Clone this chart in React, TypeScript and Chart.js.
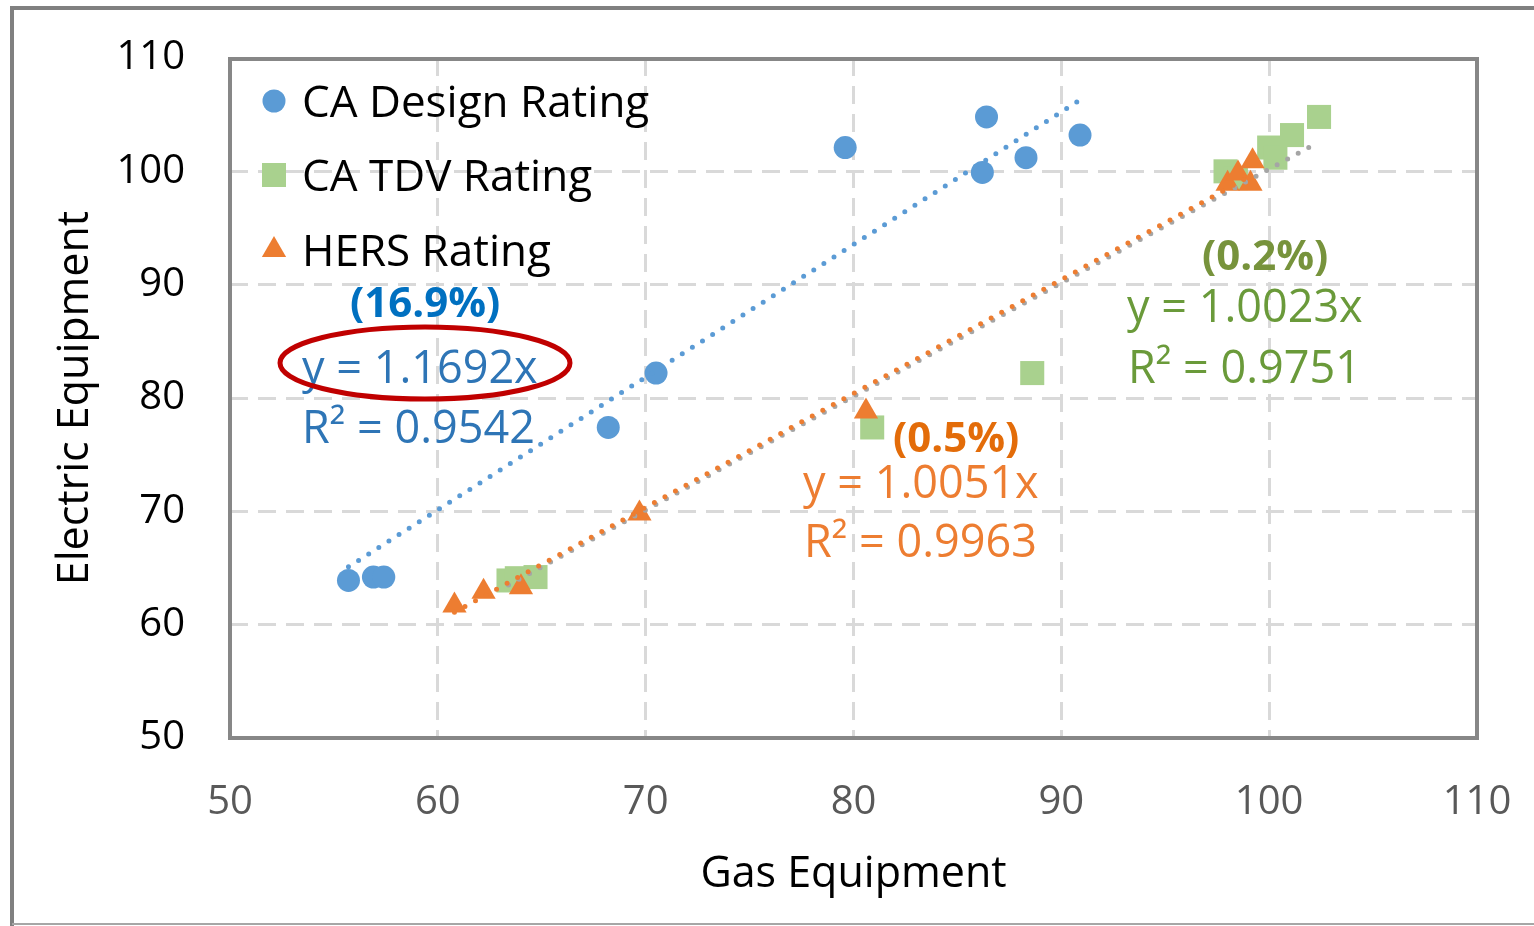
import React, { useEffect, useRef } from 'react';
import { Chart, registerables } from 'chart.js';

Chart.register(...registerables);

const FONT = '"Open Sans", "Noto Sans", sans-serif';

// ---- Data ----
const seriesNames = ['CA Design Rating', 'CA TDV Rating', 'HERS Rating'];

const designX = [55.7, 56.9, 57.4, 68.2, 70.5, 79.6, 86.4, 86.2, 88.3, 90.9];
const designY = [63.9, 64.2, 64.2, 77.4, 82.2, 102.1, 104.8, 99.9, 101.2, 103.2];

const tdvX = [63.4, 63.8, 64.7, 80.9, 88.6, 97.9, 98.4, 100.0, 100.3, 101.1, 102.4];
const tdvY = [63.9, 64.1, 64.2, 77.4, 82.2, 100.0, 99.4, 102.1, 101.2, 103.2, 104.8];

const hersX = [60.8, 62.2, 64.0, 69.7, 80.6, 98.0, 98.5, 99.1, 99.2];
const hersY = [61.7, 62.9, 63.3, 69.8, 78.8, 98.9, 99.8, 98.9, 100.9];

// trendline end points
const designTrendX = [55.7, 90.9];
const designTrendY = [65.1, 106.3];
const tdvTrendX = [63.4, 102.4];
const tdvTrendY = [63.5, 102.6];
const hersTrendX = [60.8, 99.2];
const hersTrendY = [61.1, 99.7];

const xTickValues = [50, 60, 70, 80, 90, 100, 110];
const yTickValues = [50, 60, 70, 80, 90, 100, 110];

const designLabels = ['(16.9%)', 'y = 1.1692x', 'R² = 0.9542'];
const hersLabels = ['(0.5%)', 'y = 1.0051x', 'R² = 0.9963'];
const tdvLabels = ['(0.2%)', 'y = 1.0023x', 'R² = 0.9751'];

const toPts = (xs: number[], ys: number[]) => xs.map((x, i) => ({ x, y: ys[i] }));

const zeroPad = (s: any) => {
  s.paddingLeft = 0;
  s.paddingRight = 0;
  s.paddingTop = 0;
  s.paddingBottom = 0;
};

export default function App() {
  const ref = useRef<HTMLCanvasElement>(null);

  useEffect(() => {
    const canvas = ref.current;
    if (!canvas) return;

    function drawMarker(ctx: CanvasRenderingContext2D, style: string, r: number, x: number, y: number) {
      ctx.beginPath();
      if (style === 'circle') {
        ctx.arc(x, y, r, 0, Math.PI * 2);
      } else if (style === 'rect') {
        const s = Math.SQRT1_2 * r;
        ctx.rect(x - s, y - s, 2 * s, 2 * s);
      } else {
        let rad = 0;
        ctx.moveTo(x + Math.sin(rad) * r, y - Math.cos(rad) * r);
        rad += (2 * Math.PI) / 3;
        ctx.lineTo(x + Math.sin(rad) * r, y - Math.cos(rad) * r);
        rad += (2 * Math.PI) / 3;
        ctx.lineTo(x + Math.sin(rad) * r, y - Math.cos(rad) * r);
        ctx.closePath();
      }
      ctx.fill();
    }

    const decor = {
      id: 'decor',
      beforeDraw(chart: any) {
        const { ctx, width, height } = chart;
        ctx.save();
        ctx.fillStyle = '#ffffff';
        ctx.fillRect(0, 0, width, height);
        ctx.strokeStyle = '#808080';
        ctx.lineWidth = 4;
        ctx.beginPath();
        ctx.moveTo(12, height);
        ctx.lineTo(12, 8);
        ctx.lineTo(width, 8);
        ctx.stroke();
        ctx.strokeStyle = '#A6A6A6';
        ctx.lineWidth = 2;
        ctx.beginPath();
        ctx.moveTo(12, 924);
        ctx.lineTo(width, 924);
        ctx.stroke();
        ctx.restore();
      },
      beforeDatasetsDraw(chart: any) {
        const { ctx, chartArea: a } = chart;
        ctx.save();
        ctx.strokeStyle = '#878787';
        ctx.lineWidth = 4;
        ctx.strokeRect(a.left, a.top + 1, a.right - a.left, a.bottom - a.top - 1);
        ctx.restore();
      },
      afterDatasetsDraw(chart: any) {
        const { ctx } = chart;
        ctx.save();
        const put = (t: string, x: number, y: number, font: string, color: string) => {
          ctx.font = font;
          ctx.fillStyle = color;
          ctx.textAlign = 'left';
          ctx.textBaseline = 'alphabetic';
          ctx.fillText(t, x, y);
        };
        const bold = `bold 42px ${FONT}`;
        const reg = `45px ${FONT}`;
        put(designLabels[0], 350, 317, bold, '#0070C0');
        put(designLabels[1], 302, 383, reg, '#2E75B6');
        put(designLabels[2], 302, 443, reg, '#2E75B6');
        put(hersLabels[0], 893, 452, bold, '#E36C09');
        put(hersLabels[1], 803, 498, reg, '#ED7D31');
        put(hersLabels[2], 804, 557, reg, '#ED7D31');
        put(tdvLabels[0], 1202, 270, bold, '#77933C');
        put(tdvLabels[1], 1127, 322, reg, '#6A9A3A');
        put(tdvLabels[2], 1128, 383, reg, '#6A9A3A');
        // red ellipse
        ctx.strokeStyle = '#C00000';
        ctx.lineWidth = 5;
        ctx.beginPath();
        ctx.ellipse(425, 363, 145, 36, 0, 0, Math.PI * 2);
        ctx.stroke();
        // legend inside plot area
        const rows = [101, 175, 250];
        [0, 1, 2].forEach((di, i) => {
          const ds: any = chart.data.datasets[di];
          ctx.fillStyle = ds.backgroundColor;
          drawMarker(ctx, ds.pointStyle, ds.pointRadius, 274, rows[i]);
          ctx.font = `44px ${FONT}`;
          ctx.fillStyle = '#000000';
          ctx.textAlign = 'left';
          ctx.textBaseline = 'alphabetic';
          ctx.fillText(seriesNames[i], 302, rows[i] + 16);
        });
        ctx.restore();
      },
    };

    const trend = (xs: number[], ys: number[], color: string, order: number) => ({
      label: '',
      data: toPts(xs, ys),
      showLine: true,
      borderColor: color,
      backgroundColor: color,
      borderWidth: 5,
      borderDash: [0, 12],
      borderCapStyle: 'round',
      pointRadius: 0,
      pointHoverRadius: 0,
      order,
    });

    const chart = new Chart(canvas, {
      type: 'scatter',
      data: {
        datasets: [
          {
            label: seriesNames[0],
            data: toPts(designX, designY),
            pointStyle: 'circle',
            pointRadius: 11.5,
            backgroundColor: '#5B9BD5',
            borderColor: '#5B9BD5',
            borderWidth: 0,
            order: 5,
          } as any,
          {
            label: seriesNames[1],
            data: toPts(tdvX, tdvY),
            pointStyle: 'rect',
            pointRadius: 17,
            backgroundColor: '#A9D18E',
            borderColor: '#A9D18E',
            borderWidth: 0,
            order: 4,
          } as any,
          {
            label: seriesNames[2],
            data: toPts(hersX, hersY),
            pointStyle: 'triangle',
            pointRadius: 14,
            backgroundColor: '#ED7D31',
            borderColor: '#ED7D31',
            borderWidth: 0,
            order: 3,
          } as any,
          trend(tdvTrendX, tdvTrendY, '#A5A5A5', 2) as any,
          trend(designTrendX, designTrendY, '#5B9BD5', 1) as any,
          trend(hersTrendX, hersTrendY, '#ED7D31', 1) as any,
        ],
      },
      options: {
        responsive: false,
        devicePixelRatio: 1,
        animation: false,
        layout: { padding: { left: 0, top: 58, right: 57, bottom: 0 } },
        plugins: {
          legend: { display: false },
          tooltip: { enabled: false },
        },
        scales: {
          x: {
            type: 'linear',
            min: 50,
            max: 110,
            afterFit: (s: any) => {
              s.height = 188;
              zeroPad(s);
            },
            afterBuildTicks: (s: any) => {
              s.ticks = xTickValues.map((v) => ({ value: v }));
            },
            ticks: {
              padding: 41,
              color: '#595959',
              font: { family: FONT, size: 40 },
            },
            grid: { color: '#D9D9D9', lineWidth: 3, drawTicks: false },
            border: { display: false, dash: [18, 10] },
            title: {
              display: true,
              text: 'Gas Equipment',
              color: '#000000',
              font: { family: FONT, size: 43 },
              padding: { top: 0, bottom: 25 },
            },
          },
          y: {
            type: 'linear',
            min: 50,
            max: 110,
            afterFit: (s: any) => {
              s.width = 230;
              zeroPad(s);
            },
            afterBuildTicks: (s: any) => {
              s.ticks = yTickValues.map((v) => ({ value: v }));
            },
            ticks: {
              padding: 45,
              color: '#000000',
              font: { family: FONT, size: 40 },
            },
            grid: { color: '#D9D9D9', lineWidth: 3, drawTicks: false },
            border: { display: false, dash: [18, 10] },
            title: {
              display: true,
              text: 'Electric Equipment',
              color: '#000000',
              font: { family: FONT, size: 43 },
              padding: { top: 50, bottom: 0 },
            },
          },
        },
      } as any,
      plugins: [decor],
    });

    return () => chart.destroy();
  }, []);

  return (
    <div style={{ position: 'fixed', left: 0, top: 0, width: 1534, height: 926, background: '#fff' }}>
      <canvas ref={ref} width={1534} height={926} style={{ display: 'block', width: 1534, height: 926 }} />
    </div>
  );
}
